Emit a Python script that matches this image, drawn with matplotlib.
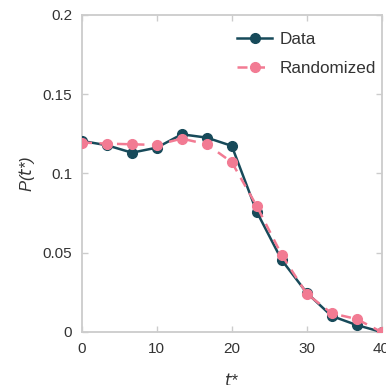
import matplotlib
matplotlib.use('Agg')
import matplotlib.pyplot as plt

# valeurs
t_star = [0, 3.33, 6.67, 10, 13.33, 16.67, 20, 23.33, 26.67, 30, 33.33, 36.67, 40]
p_data = [0.1205, 0.1178, 0.1131, 0.1163, 0.1247, 0.1226, 0.1174,
          0.0759, 0.0454, 0.0248, 0.0101, 0.0044, 0.0]
p_random = [0.1195, 0.1188, 0.1184, 0.1180, 0.1220, 0.1184, 0.1071,
            0.0795, 0.0486, 0.0242, 0.0118, 0.0082, 0.0]

x_ticks = [0, 10, 20, 30, 40]
y_ticks = [0, 0.05, 0.1, 0.15, 0.2]
y_labels = ['0', '0.05', '0.1', '0.15', '0.2']

plt.rcParams['font.family'] = ['Liberation Sans', 'DejaVu Sans']

fig = plt.figure(figsize=(3.86, 3.85), dpi=100)
ax = fig.add_axes([0.2124, 0.1377, 0.776, 0.8235])

dark = '#174a5a'
pink = '#f27b93'

ax.plot(t_star, p_data, '-o', color=dark, lw=1.8, ms=7, label='Data', zorder=3)
ax.plot(t_star, p_random, '--o', color=pink, lw=1.8, ms=7, dashes=(4, 3),
        label='Randomized', zorder=4)

ax.set_xlim(0, 40)
ax.set_ylim(0, 0.2)
ax.set_xticks(x_ticks)
ax.set_yticks(y_ticks)
ax.set_yticklabels(y_labels)

for s in ax.spines.values():
    s.set_color('#cccccc')
    s.set_linewidth(1.3)

ax.tick_params(direction='in', length=4, width=1, color='#cccccc',
               labelsize=11, labelcolor='#333333', top=True, right=True, pad=7)

ax.set_xlabel('$t$*', fontsize=12, color='#333333', style='italic', labelpad=12)
ax.set_ylabel('P($t$*)', fontsize=12, color='#333333', style='italic', labelpad=4)

leg = ax.legend(loc='upper right', bbox_to_anchor=(1, 0.962), frameon=False,
                fontsize=12.3, handlelength=2.05, handletextpad=0.45,
                labelspacing=0.8, borderaxespad=0.1, borderpad=0.2)
for t in leg.get_texts():
    t.set_color('#333333')

fig.savefig('out.png', dpi=100)
